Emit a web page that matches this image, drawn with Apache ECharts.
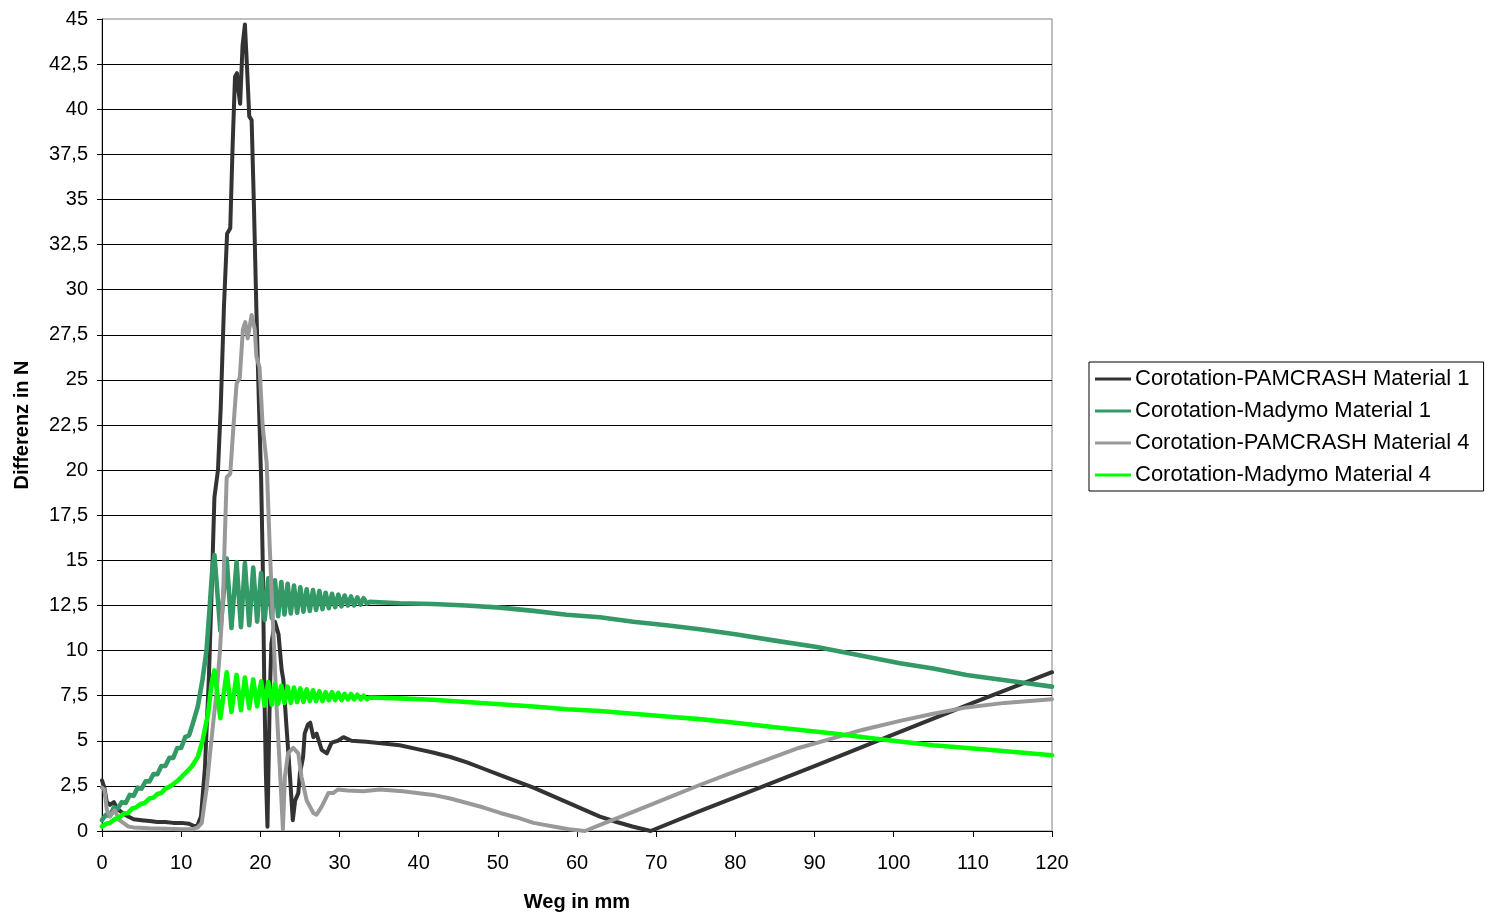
<!DOCTYPE html>
<html>
<head>
<meta charset="utf-8">
<title>Differenz in N</title>
<script src="https://cdn.jsdelivr.net/npm/echarts@6/dist/echarts.min.js"></script>
<style>
  html, body { margin: 0; padding: 0; background: #fff; }
  #chart { width: 1486px; height: 917px; }
</style>
</head>
<body>
<div id="chart"></div>
<script>
// Weg in mm / Differenz in N, one [weg, differenz] pair per point
const seriesNames = [
  'Corotation-PAMCRASH Material 1',
  'Corotation-Madymo Material 1',
  'Corotation-PAMCRASH Material 4',
  'Corotation-Madymo Material 4'
];

const pamcrashMat1 = [
  [0,2.8],[0.3,2.4],[0.6,1.6],[1.0,1.45],[1.5,1.6],[2.0,1.2],[2.6,1.0],[3.3,0.8],[4.0,0.65],
  [5,0.6],[6,0.55],[7,0.5],[8,0.5],[9,0.45],[10,0.45],[11,0.4],[11.5,0.3],[12.0,0.25],
  [12.5,0.8],[13.0,3.5],[13.5,8.5],[13.9,14],[14.2,18.5],[14.65,20.0],[15.0,23.5],[15.4,29.0],
  [15.8,33.1],[16.2,33.4],[16.5,38.0],[16.8,41.8],[17.05,42.0],[17.25,41.0],[17.45,40.3],
  [17.75,43.5],[18.05,44.7],[18.3,42.5],[18.6,39.6],[18.9,39.4],[19.2,34.5],[19.5,28.9],
  [19.8,24],[20.1,19.5],[20.3,15.0],[20.5,8.0],[20.7,3.2],[20.9,0.24],[21.2,7.6],[21.4,10.4],
  [21.85,11.6],[22.3,10.9],[22.7,8.9],[22.9,8.4],[23.3,5.8],[23.75,3.0],[24.1,0.6],[24.4,1.7],
  [24.8,2.1],[25.0,3.2],[25.4,4.1],[25.6,5.4],[26.0,5.9],[26.3,6.0],[26.7,5.2],[27.1,5.4],
  [27.75,4.5],[28.4,4.3],[29.0,4.9],[29.8,5.0],[30.5,5.2],[31.5,5.0],[33.4,4.95],[35.5,4.85],
  [37.6,4.75],[39.7,4.55],[41.8,4.35],[44,4.1],[46.1,3.8],[48.2,3.45],[50.3,3.1],[52.4,2.75],
  [54.5,2.4],[56.6,2.0],[58.7,1.6],[60.8,1.2],[62.9,0.8],[65,0.5],[67,0.25],[69.3,0.0],
  [75.5,1.1],[83.1,2.4],[90,3.6],[100,5.35],[110,7.1],[120,8.8]
];

const madymoMat1 = [
  [0,0.6],[0.5,0.9],[1,0.85],[1.5,1.3],[2,1.25],[2.5,1.6],[3,1.55],[3.5,2.0],[4,1.95],
  [4.5,2.4],[5,2.35],[5.5,2.75],[6,2.75],[6.5,3.15],[7,3.15],[7.5,3.6],[8,3.6],[8.5,4.05],
  [9,4.05],[9.5,4.6],[10,4.6],[10.5,5.2],[11,5.3],[11.5,6.0],[12.1,6.9],[12.7,8.4],[13.2,10.0],
  [13.6,12.4],[13.9,14.3],
  [14.2,15.3],[14.95,11.1],[15.75,15.1],[16.35,11.25],[17.0,14.9],[17.55,11.3],[18.05,14.85],
  [18.6,11.4],[19.1,14.6],[19.6,11.6],[20.1,14.3],[20.55,11.7],[21.0,14.0],[21.45,11.8],
  [21.85,13.9],[22.25,11.9],[22.65,13.8],[23.05,12.0],[23.45,13.7],[23.85,12.05],[24.25,13.6],
  [24.65,12.1],[25.05,13.5],[25.45,12.15],[25.85,13.4],[26.25,12.2],[26.65,13.35],[27.05,12.25],
  [27.45,13.3],[27.85,12.3],[28.25,13.2],[28.65,12.35],[29.05,13.15],[29.45,12.4],[29.85,13.1],
  [30.25,12.45],[30.65,13.05],[31.05,12.5],[31.45,13.0],[31.85,12.5],[32.25,12.95],[32.65,12.55],
  [33.05,12.9],[33.45,12.6],
  [33.8,12.7],[37.6,12.62],[41.8,12.58],[46,12.5],[50.3,12.38],[54.5,12.2],[58.7,11.98],
  [62.9,11.85],[67.1,11.6],[71.3,11.4],[75.5,11.18],[80,10.9],[85,10.55],[90.3,10.2],
  [95,9.8],[100.8,9.3],[105,9.0],[109.2,8.65],[115,8.3],[120,8.0]
];

const pamcrashMat4 = [
  [0,2.4],[0.3,2.3],[0.6,1.2],[1.0,0.8],[1.6,1.15],[2.2,0.6],[3.3,0.25],[4,0.2],[6,0.15],
  [8,0.12],[10,0.1],[11.5,0.1],[12.1,0.2],[12.6,0.45],[13.2,2.3],[13.6,4.1],[14.0,5.8],
  [14.5,7.8],[14.9,10.0],[15.3,13.0],[15.5,16.1],[15.75,19.6],[16.2,19.8],[16.6,22.4],
  [17.0,24.8],[17.4,25.1],[17.8,27.8],[18.1,28.2],[18.4,27.3],[18.9,28.6],[19.3,27.8],
  [19.5,26.3],[19.9,25.7],[20.3,22.4],[20.8,20.4],[21.2,15.6],[21.6,11.5],[22.05,6.9],
  [22.5,3.2],[22.85,0.1],[23.1,3.0],[23.5,4.3],[24.15,4.6],[24.8,4.3],[25.2,3.0],[25.85,1.7],
  [26.7,1.0],[27.1,0.9],[27.75,1.35],[28.6,2.1],[29.2,2.1],[29.8,2.3],[31,2.25],[33,2.2],
  [35.1,2.3],[38,2.2],[41.8,2.0],[44,1.8],[46.1,1.55],[48.2,1.3],[50.3,1.0],[52.4,0.75],
  [54.5,0.45],[57,0.25],[59,0.1],[61,0.0],[63,0.35],[67,1.05],[71,1.75],[75.5,2.55],
  [80,3.3],[84,3.95],[88,4.6],[92.4,5.15],[96,5.6],[100.8,6.1],[105,6.5],[109.2,6.85],
  [114,7.1],[120,7.3]
];

const madymoMat4 = [
  [0,0.25],[0.5,0.4],[1,0.45],[1.6,0.65],[2.2,0.75],[2.7,0.95],[3.3,1.0],[3.8,1.25],[4.3,1.3],
  [4.9,1.5],[5.4,1.55],[6,1.8],[6.5,1.85],[7,2.05],[7.5,2.1],[8,2.35],[8.5,2.45],[9,2.6],
  [9.6,2.8],[10.5,3.2],[11.3,3.55],[12.1,4.1],[12.7,5.0],[13.4,6.5],[13.85,8.2],
  [14.2,8.9],[14.95,6.25],[15.75,8.8],[16.35,6.6],[17.0,8.65],[17.55,6.7],[18.05,8.5],
  [18.6,6.8],[19.1,8.4],[19.6,6.9],[20.1,8.3],[20.55,6.95],[21.0,8.25],[21.45,7.0],
  [21.85,8.15],[22.25,7.05],[22.65,8.05],[23.05,7.1],[23.45,8.0],[23.85,7.1],[24.25,7.95],
  [24.65,7.15],[25.05,7.9],[25.45,7.15],[25.85,7.85],[26.25,7.2],[26.65,7.8],[27.05,7.2],
  [27.45,7.75],[27.85,7.2],[28.25,7.7],[28.65,7.25],[29.05,7.7],[29.45,7.25],[29.85,7.65],
  [30.25,7.25],[30.65,7.6],[31.05,7.3],[31.45,7.6],[31.85,7.3],[32.25,7.55],[32.65,7.3],
  [33.05,7.5],[33.45,7.3],
  [33.8,7.4],[37.6,7.35],[41.8,7.27],[46,7.15],[50.3,7.02],[54.5,6.9],[58.7,6.75],[62.9,6.65],
  [67.1,6.5],[71.3,6.35],[75.5,6.2],[80,6.0],[85,5.75],[92.4,5.4],[98,5.1],[105,4.75],
  [112,4.5],[120,4.2]
];

const xTicks = { min: 0, max: 120, interval: 10 };
const yTicks = { min: 0, max: 45, interval: 2.5 };

const colors = ['#333333', '#339966', '#999999', '#00ff00'];
const lineWidths = [4, 4.6, 4, 4.6];
const dataSets = [pamcrashMat1, madymoMat1, pamcrashMat4, madymoMat4];

const font = 'Arial, "Liberation Sans", sans-serif';

const chart = echarts.init(document.getElementById('chart'), null, { renderer: 'canvas' });

chart.setOption({
  animation: false,
  backgroundColor: '#ffffff',
  color: colors,
  grid: {
    left: 102, right: 434, top: 19, bottom: 86,
    outerBoundsMode: 'none',
    containLabel: false,
    show: true, borderColor: '#808080', borderWidth: 1, backgroundColor: 'transparent'
  },
  legend: {
    orient: 'vertical',
    left: 1089, top: 362,
    padding: [6, 14, 5, 6],
    itemGap: 10,
    itemWidth: 36,
    itemHeight: 3,
    icon: 'rect',
    borderColor: '#000',
    borderWidth: 1,
    data: seriesNames,
    textStyle: { fontFamily: font, fontSize: 22, color: '#000', lineHeight: 22, padding: [0, 0, 0, -1] }
  },
  xAxis: {
    type: 'value',
    min: xTicks.min, max: xTicks.max, interval: xTicks.interval,
    name: 'Weg in mm',
    nameLocation: 'middle',
    nameGap: 61,
    nameTextStyle: { fontFamily: font, fontSize: 20, fontWeight: 'bold', color: '#000' },
    axisLine: { onZero: false, lineStyle: { color: '#000', width: 1 } },
    axisTick: { show: true, inside: false, length: 6, lineStyle: { color: '#000' } },
    axisLabel: { fontFamily: font, fontSize: 20, color: '#000', margin: 22 },
    splitLine: { show: false }
  },
  yAxis: {
    type: 'value',
    min: yTicks.min, max: yTicks.max, interval: yTicks.interval,
    name: 'Differenz in N',
    nameLocation: 'middle',
    nameGap: 70,
    nameRotate: 90,
    nameTextStyle: { fontFamily: font, fontSize: 20, fontWeight: 'bold', color: '#000' },
    axisLine: { show: true, lineStyle: { color: '#000', width: 1 } },
    axisTick: { show: true, inside: false, length: 5, lineStyle: { color: '#000' } },
    axisLabel: {
      fontFamily: font, fontSize: 20, color: '#000', margin: 14,
      formatter: v => String(v).replace('.', ',')
    },
    splitLine: { show: true, showMinLine: false, showMaxLine: false, lineStyle: { color: '#000', width: 1 } }
  },
  series: seriesNames.map((name, i) => ({
    name: name,
    type: 'line',
    data: dataSets[i],
    showSymbol: false,
    symbol: 'none',
    smooth: false,
    lineStyle: { width: lineWidths[i], color: colors[i], join: 'round', cap: 'round' },
    itemStyle: { color: colors[i] },
    emphasis: { disabled: true }
  }))
});
</script>
</body>
</html>
